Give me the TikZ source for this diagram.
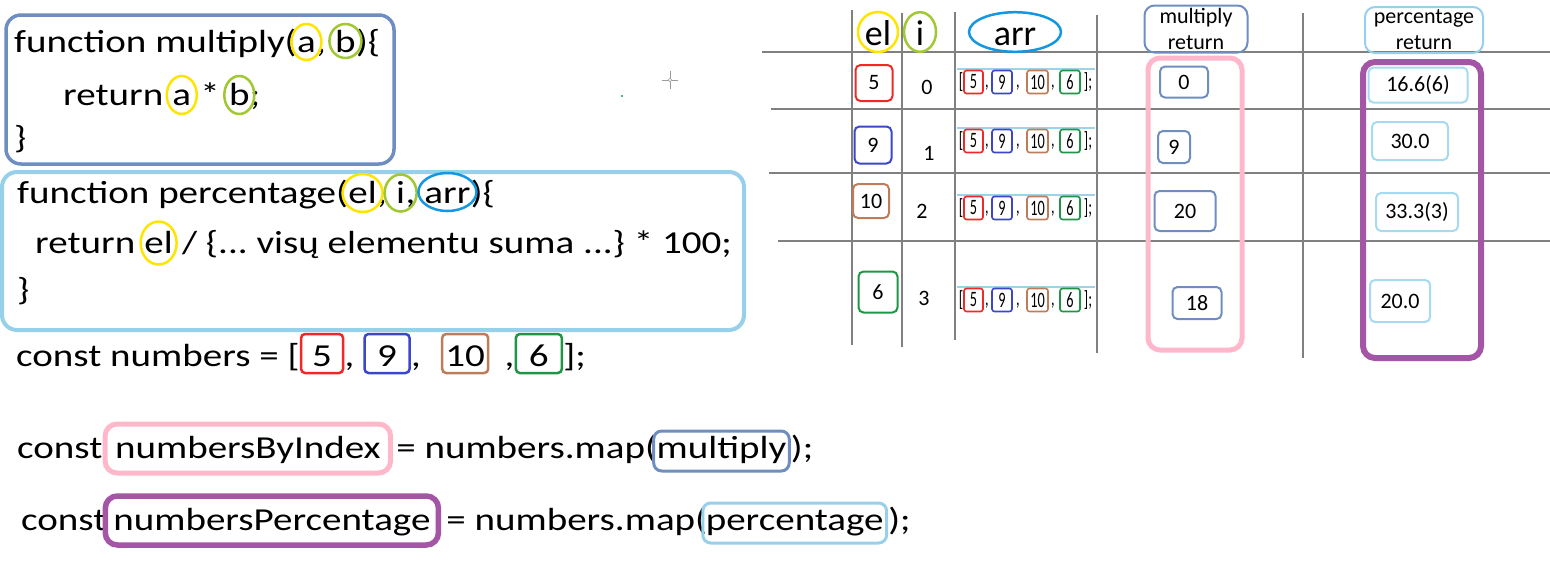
\documentclass[tikz,border=0pt]{standalone}
\usepackage{fontspec}
\setmainfont{Carlito}
\newfontfamily\codefont[FakeStretch=1.22]{Carlito}
\newfontfamily\minifont[FakeStretch=0.65]{Carlito}
\usetikzlibrary{shapes.geometric}
\definecolor{funcblue}{RGB}{111,142,192}
\definecolor{skyblue}{RGB}{150,208,234}
\definecolor{cellsky}{RGB}{165,218,240}
\definecolor{arrblue}{RGB}{20,150,225}
\definecolor{elyellow}{RGB}{255,228,0}
\definecolor{igreen}{RGB}{160,200,50}
\definecolor{pinkcol}{RGB}{255,183,203}
\definecolor{purplecol}{RGB}{165,85,165}
\definecolor{numred}{RGB}{240,40,40}
\definecolor{numblue}{RGB}{60,70,200}
\definecolor{numbrown}{RGB}{190,125,90}
\definecolor{numgreen}{RGB}{30,150,70}
\definecolor{gridgray}{RGB}{128,128,128}
\definecolor{arrline}{RGB}{160,210,230}
\newcommand{\codesize}{\codefont\fontsize{32pt}{38pt}\selectfont}
\newcommand{\cellsize}{\fontsize{22pt}{26pt}\selectfont}
\newcommand{\gap}{\ \kern0pt}

\begin{document}
\begin{tikzpicture}[x=1pt,y=-1pt,
  seg/.style={inner sep=0pt,anchor=base west,font=\codesize},
  ring/.style={draw=#1,line width=2.5pt},
  frame/.style={draw=#1,line width=3.5pt,rounded corners=15pt},
  numbox/.style={draw=#1,rounded corners=4pt,line width=2.5pt,anchor=base west,font=\codesize,inner xsep=0pt,inner ysep=4pt,text height=28pt,text depth=3pt},
  wordbox/.style={draw=#1,anchor=base west,font=\codesize},
  grid/.style={draw=gridgray,line width=2pt},
  hdr/.style={ellipse,draw=#1,line width=2.5pt,inner sep=0pt,font=\fontsize{36pt}{40pt}\selectfont,text height=27pt,text depth=1pt},
  hbox/.style={draw=#1,line width=2pt,rounded corners=10pt,align=center,font=\fontsize{22pt}{26pt}\selectfont,inner sep=0pt},
  cellbox/.style={draw=#1,rounded corners=5pt,line width=2pt,font=\cellsize,inner sep=0pt},
  minibox/.style={draw=#1,rounded corners=2.5pt,line width=1.6pt,font=\minifont\fontsize{22pt}{24pt}\selectfont,inner sep=0pt,minimum height=23pt},
  mini/.style={font=\minifont\fontsize{22pt}{24pt}\selectfont,inner sep=0pt}]
\useasboundingbox (0,0) rectangle (1550,574);

\draw[frame=funcblue] (6,15) rectangle (394,164);
\node[seg] (mA) at (14,52) {function multiply(};
\node[seg] (ma) at (mA.base east) {a};
\node[seg] (mB) at (ma.base east) {,\gap};
\node[seg] (mb) at (mB.base east) {b};
\node[seg] (mC) at (mb.base east) {)\{};
\node[seg] (rA) at (63,105) {return\gap};
\node[seg] (ra) at (rA.base east) {a};
\node[seg] (rB) at (ra.base east) {\ *\gap};
\node[seg] (rb) at (rB.base east) {b};
\node[seg] (rC) at (rb.base east) {;};
\node[seg] (mD) at (14,148) {\}};
\draw[ring=elyellow] ([yshift=10pt]ma.base) ellipse (15pt and 18pt);
\draw[ring=igreen] ([yshift=11pt]mb.base) ellipse (16pt and 17pt);
\draw[ring=elyellow] ([yshift=10pt]ra.base) ellipse (15pt and 19pt);
\draw[ring=igreen] ([yshift=10pt]rb.base) ellipse (15pt and 19pt);

\draw[frame=skyblue,line width=4pt] (2,172) rectangle (744,330);
\node[seg] (pA) at (17,203) {function percentage(};
\node[seg] (pel) at (pA.base east) {el};
\node[seg] (pB) at (pel.base east) {,\gap};
\node[seg] (pi) at (pB.base east) {i};
\node[seg] (pC) at (pi.base east) {,\gap};
\node[seg] (parr) at (pC.base east) {arr};
\node[seg] (pD) at (parr.base east) {)\{};
\node[seg] (qA) at (35,253) {return\gap};
\node[seg] (qel) at (qA.base east) {el};
\node[seg] (qB) at (qel.base east) {\ /\ \{...\ visų elementu suma ...\}\ *\ 100;};
\node[seg] (qC) at (17,300) {\}};
\draw[ring=elyellow] ([yshift=10pt]pel.base) ellipse (20pt and 19pt);
\draw[ring=igreen] ([yshift=10pt]pi.base) ellipse (16pt and 18.5pt);
\draw[ring=arrblue] ([yshift=11pt]parr.base) ellipse (29pt and 19pt);
\draw[ring=elyellow] ([yshift=10pt]qel.base) ellipse (18pt and 21.5pt);

\node[seg] (nA) at (16,366) {const numbers = [};
\node[numbox=numred,minimum width=42pt] (n5) at (nA.base east) {5};
\node[seg] (nB) at (n5.base east) {,\gap};
\node[numbox=numblue,minimum width=45pt] (n9) at (nB.base east) {9};
\node[seg] (nC) at (n9.base east) {,\hspace{20pt}\kern0pt};
\node[numbox=numbrown,minimum width=46pt] (n10) at (nC.base east) {10};
\node[seg] (nD) at (n10.base east) {\hspace{15pt},};
\node[numbox=numgreen,minimum width=46pt] (n6) at (nD.base east) {6};
\node[seg] (nE) at (n6.base east) {];};

\node[seg] (bA) at (17,458) {const};
\node[wordbox=pinkcol,line width=5pt,inner xsep=10pt,inner ysep=6pt,text height=28pt,text depth=9pt,rounded corners=12pt] (bidx) at (bA.base east) {numbersByIndex};
\node[seg] (bB) at ([xshift=3pt]bidx.base east) {= numbers.map(};
\node[wordbox=funcblue,line width=3pt,inner xsep=3pt,inner ysep=3pt,text height=24pt,text depth=10pt,rounded corners=8pt] (bmul) at ([xshift=-5pt]bB.base east) {multiply};
\node[seg] (bC) at (bmul.base east) {);};

\node[seg] (cA) at (21,530) {const};
\node[wordbox=purplecol,line width=5.5pt,inner xsep=8pt,inner ysep=6pt,text height=28pt,text depth=9pt,rounded corners=12pt] (cpct) at ([xshift=-4pt]cA.base east) {numbersPercentage};
\node[seg] (cB) at ([xshift=5pt]cpct.base east) {= numbers.map(};
\node[wordbox=skyblue,line width=3pt,inner xsep=3pt,inner ysep=3pt,text height=24pt,text depth=10pt,rounded corners=8pt] (cper) at ([xshift=-6pt]cB.base east) {percentage};
\node[seg] (cC) at (cper.base east) {);};

\draw[gridgray!80,line width=0.6pt] (662,80) -- (678,80) (670,71) -- (670,89);
\draw[gridgray!80,line width=0.6pt,fill=white] (670,80) circle (1.8pt);
\fill[numgreen] (622,96) circle (1.2pt);

\foreach \yy/\xs in {52/762,109/771,173/769,241/778}
  \draw[grid] (\xs,\yy) -- (1550,\yy);
\foreach \xx/\ys/\ye in {852/10/345,902/13/347,955/12/340,1097/15/353,1303/13/358}
  \draw[grid] (\xx,\ys) -- (\xx,\ye);

\node[hdr=elyellow,minimum width=40pt,minimum height=40pt] (hel) at (878,32) {el};
\node[hdr=igreen,minimum width=32pt,minimum height=37pt] (hi) at (920,32) {i};
\node[hdr=arrblue,minimum width=92pt,minimum height=37pt] (harr) at (1015,32) {arr};
\node[hbox=funcblue,minimum width=103pt,minimum height=47pt] (hmul) at (1196,29) {multiply\\return};
\node[hbox=skyblue,minimum width=118pt,minimum height=46pt] (hpct) at (1424,30) {percentage\\return};

\foreach \v/\col/\xx/\yy/\w/\h [count=\k] in {5/numred/874/83/37/36,9/numblue/873/145/37/37,10/numbrown/871/201/36/34,6/numgreen/878/292/39/41}
  \node[cellbox=\col,minimum width=\w pt,minimum height=\h pt] (el\k) at (\xx,\yy) {\v};
\foreach \v/\xx/\yy [count=\k] in {0/927/87,1/929/153,2/922/211,3/924/298}
  \node[font=\cellsize,inner sep=0pt] (ix\k) at (\xx,\yy) {\v};

\foreach \yy [count=\k] in {69,128,195,287}{
  \draw[arrline,line width=1.5pt] (957,\yy) -- (1095,\yy);
  \node[mini] (lb\k) at (961,\yy+13) {[};
  \foreach \v/\col/\xx/\w in {5/numred/973.5/19,9/numblue/1002/20,10/numbrown/1037.5/21,6/numgreen/1070/20}
    \node[minibox=\col,minimum width=\w pt] at (\xx,\yy+13) {\v};
  \foreach \xx in {987,1018,1053}
    \node[mini] at (\xx,\yy+19) {,};
  \node[mini] (rb\k) at (1088,\yy+13) {];};
}

\draw[draw=pinkcol,line width=5pt,rounded corners=12pt] (1148,58) rectangle (1242,350);
\draw[draw=purplecol,line width=6pt,rounded corners=12pt] (1363,62) rectangle (1481,358);

\foreach \v/\xx/\yy/\w/\h [count=\k] in {0/1184/82/48/31,9/1174/147/32/32,20/1185/211/61/40,18/1197/303/49/32}
  \node[cellbox=funcblue,minimum width=\w pt,minimum height=\h pt] (mul\k) at (\xx,\yy) {\v};
\foreach \v/\xx/\yy/\w/\h [count=\k] in {16.6(6)/1418/85/99/35,30.0/1410/141/76/38,33.3(3)/1417/212/82/38,20.0/1400/301/60/42}
  \node[cellbox=cellsky,minimum width=\w pt,minimum height=\h pt] (pct\k) at (\xx,\yy) {\v};
\end{tikzpicture}
\end{document}
